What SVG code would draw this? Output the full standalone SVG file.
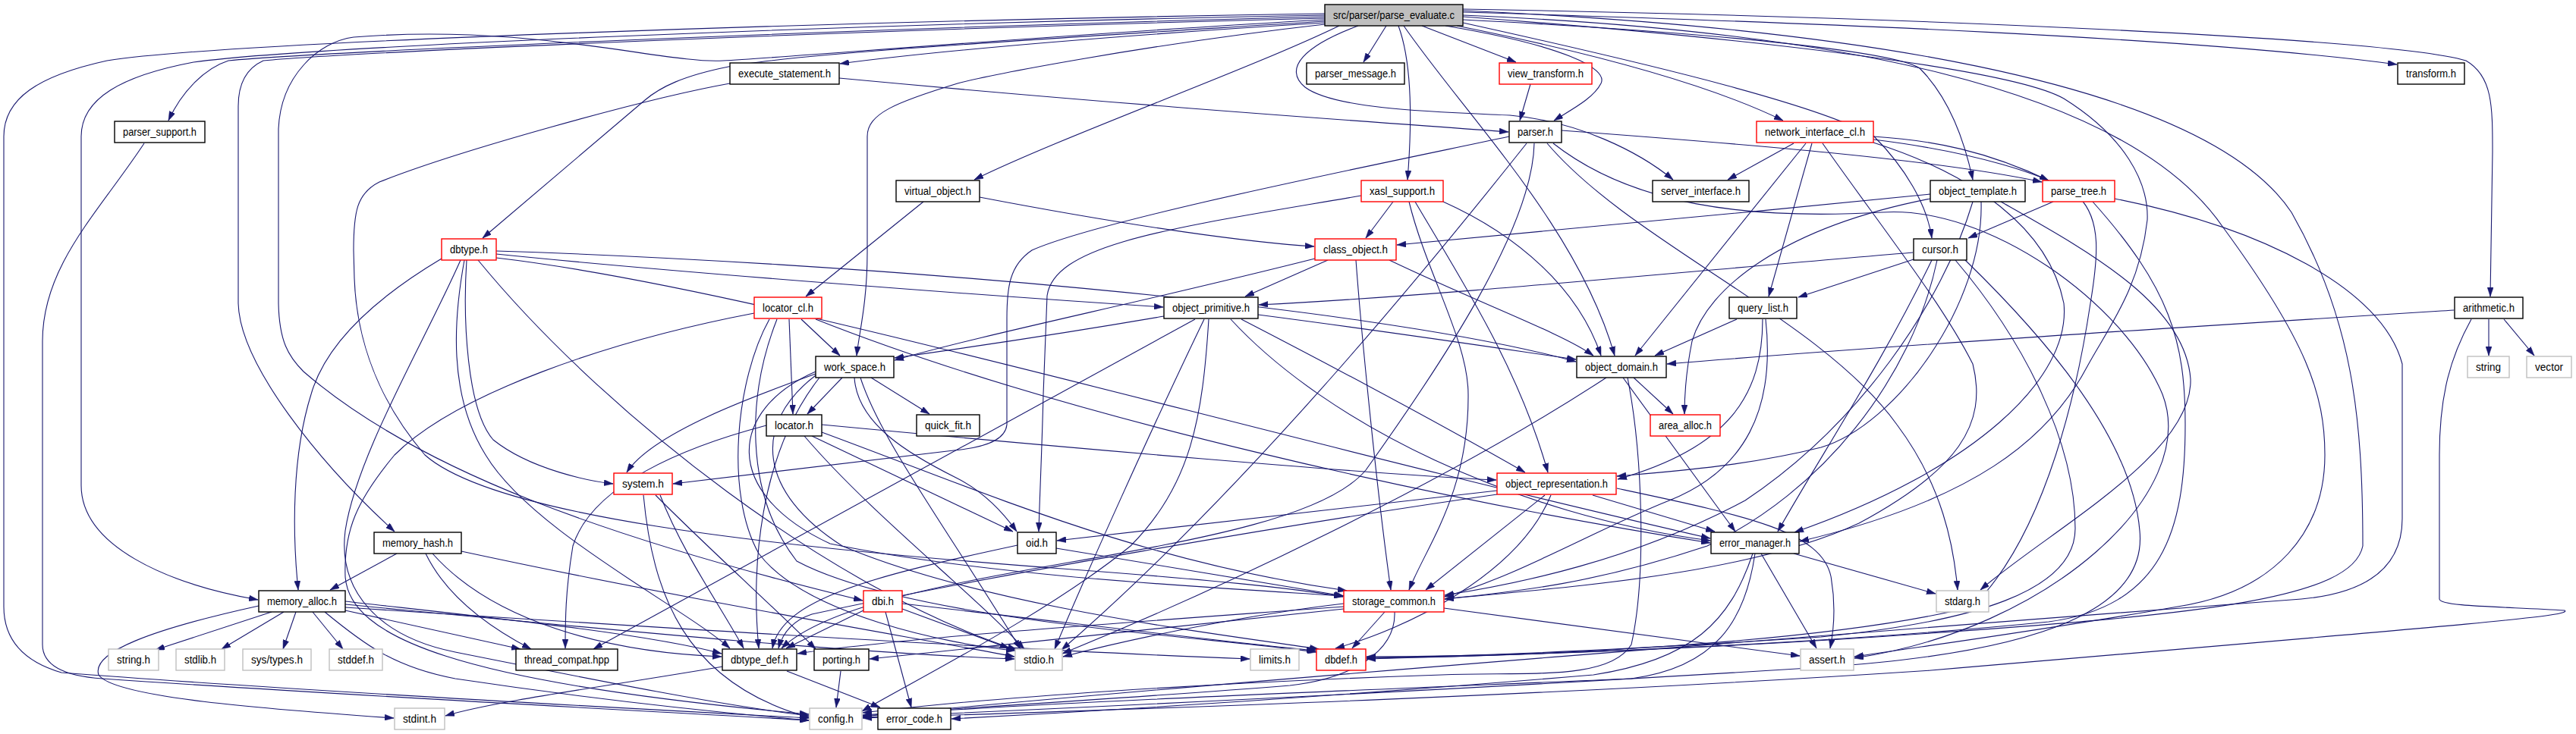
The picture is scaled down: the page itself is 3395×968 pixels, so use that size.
<svg xmlns="http://www.w3.org/2000/svg" width="3395" height="968" viewBox="0 0 3395 968">
<style>
.bg{fill:#ffffff}
rect.n{fill:#ffffff;stroke:#000000;stroke-width:1.4}
rect.r{fill:#ffffff;stroke:#ff0000;stroke-width:1.4}
rect.g{fill:#ffffff;stroke:#bfbfbf;stroke-width:1.4}
rect.root{fill:#bfbfbf;stroke:#000000;stroke-width:1.4}
text{font-family:"Liberation Sans",Arial,sans-serif;font-size:14px;fill:#000000;text-anchor:middle}
#edges path{fill:none;stroke:#191970;stroke-width:1.1;marker-end:url(#a)}
</style>
<defs>
<marker id="a" viewBox="0 0 12 8" refX="12" refY="4" markerWidth="12" markerHeight="8" markerUnits="userSpaceOnUse" orient="auto">
<path d="M0,0 L12,4 L0,8 z" fill="#191970" stroke="#191970" stroke-width="0.5"/>
</marker>
</defs>
<rect class="bg" x="0" y="0" width="3395" height="968"/>
<g id="edges">
<path d="M1746,18 C1100,28 300,55 141,80 C50,100 5,130 5,180 L5,800 C5,850 40,875 81,887 C400,912 900,938 1066,947"/>
<path d="M1746,20 C1100,32 400,62 255,82 C160,100 107,130 107,180 L107,640 C107,720 220,770 340,791"/>
<path d="M1746,22 C1100,38 400,70 301,80 C270,90 240,120 222,159"/>
<path d="M1746,24 C1100,40 450,70 347,80 C325,90 314,110 314,140 L314,400 C316,480 420,610 520,701"/>
<path d="M1746,26 C1400,45 1050,75 953,80 C880,85 700,30 466,49 C420,55 370,100 367,170 L367,400 C368,450 380,470 400,490 C550,620 800,710 1137,792"/>
<path d="M1746,28 C1400,50 1050,70 960,88 C900,100 870,115 850,132 L636,314"/>
<path d="M1746,30 C1500,45 1250,65 1107,84"/>
<path d="M1746,32 C1500,60 1300,100 1262,110 C1180,135 1143,150 1143,180 L1143,333 C1143,400 1132,440 1129,469"/>
<path d="M1765,34 C1650,90 1400,180 1284,237"/>
<path d="M1827,34 L1797,82"/>
<path d="M1874,34 L1998,82"/>
<path d="M1843,34 C1860,80 1862,150 1855,237"/>
<path d="M1790,34 C1720,60 1690,90 1720,115 C1760,145 1900,148 1990,152 C2080,160 2160,200 2205,237"/>
<path d="M1850,34 C1930,150 2080,300 2128,469"/>
<path d="M1905,34 C2060,60 2120,90 2110,110 C2100,130 2070,145 2048,159"/>
<path d="M1920,34 C2100,70 2250,110 2350,159"/>
<path d="M1928,30 C2200,90 2400,140 2470,180 C2510,220 2540,270 2546,314"/>
<path d="M1928,26 C2300,45 2500,70 2530,90 C2570,130 2590,190 2600,237"/>
<path d="M1928,16 C2400,30 2900,50 3159,85"/>
<path d="M1928,12 C2500,22 3150,50 3250,80 C3285,100 3285,140 3285,200 L3282,391"/>
<path d="M1928,22 C2300,50 2650,90 2720,130 C2800,180 2832,240 2830,290 C2820,380 2780,430 2751,483 C2700,580 2600,660 2372,714"/>
<path d="M1928,20 C2400,40 2800,110 2930,300 C3040,450 3064,520 3064,600 C3064,700 3000,780 2870,800 C2700,830 2550,850 2444,866"/>
<path d="M1928,14 C2400,35 2900,100 3020,280 C3100,420 3114,550 3114,720 C3100,790 2900,810 2545,835 C2200,860 1900,866 1801,869"/>
<path d="M1106,103 C1500,140 1800,160 1988,174"/>
<path d="M962,110 C850,130 600,200 500,240 C470,255 466,280 466,330 L467,367 C470,450 500,530 560,600 C650,680 1000,720 1400,750 C1600,765 1700,775 1770,787"/>
<path d="M190,189 C130,280 56,350 56,450 L56,850 C56,880 90,892 135,895 C500,920 900,940 1066,950"/>
<path d="M2058,172 C2300,190 2550,210 2691,240"/>
<path d="M1989,180 C1800,220 1450,290 1360,330 C1330,350 1327,380 1327,420 L1327,560 C1325,580 1300,590 1257,594 C1100,612 950,630 887,638"/>
<path d="M2012,189 C1900,330 1650,640 1399,857"/>
<path d="M2022,189 C2020,300 1900,480 1800,620 C1700,740 1150,740 1030,855"/>
<path d="M2039,189 C2150,320 2400,420 2500,560 C2560,640 2575,720 2580,778"/>
<path d="M2047,189 C2150,270 2300,290 2480,280 C2620,270 2800,400 2850,520 C2900,650 2700,830 2444,868"/>
<path d="M2017,111 L2003,159"/>
<path d="M2364,189 L2277,237"/>
<path d="M2380,189 L2155,469"/>
<path d="M2388,189 L2331,391"/>
<path d="M2469,180 C2550,185 2620,200 2700,238"/>
<path d="M2402,189 C2480,300 2560,400 2600,480 C2620,560 2580,620 2450,690 C2300,760 2050,775 1904,790"/>
<path d="M2469,184 C2600,200 2700,230 2740,260 C2770,290 2765,340 2755,400 C2740,500 2700,700 2600,800 C2400,850 2000,866 1801,868"/>
<path d="M2469,188 C2600,230 2700,300 2720,400 C2730,500 2600,620 2365,702"/>
<path d="M1794,258 C1550,300 1390,320 1380,390 L1375,520 C1373,600 1370,660 1369,701"/>
<path d="M1836,266 L1800,314"/>
<path d="M1902,266 C2000,310 2080,380 2110,469"/>
<path d="M1857,266 C1880,360 1935,450 1935,520 C1936,650 1880,720 1857,778"/>
<path d="M1865,266 C1920,360 2000,480 2040,623"/>
<path d="M1217,266 L1062,391"/>
<path d="M1291,260 C1500,300 1650,320 1732,325"/>
<path d="M582,341 C500,390 430,450 410,520 C385,600 385,700 393,778"/>
<path d="M607,343 C560,450 470,600 455,700 C445,780 500,840 600,860 C800,900 950,930 1066,944"/>
<path d="M612,343 C598,420 590,520 640,600 C700,700 900,800 962,855"/>
<path d="M615,343 C610,420 615,540 650,580 C700,620 780,635 808,638"/>
<path d="M630,343 C800,550 1100,780 1340,857"/>
<path d="M654,335 C900,360 1300,390 1533,405"/>
<path d="M654,331 C1100,345 1800,400 2077,477"/>
<path d="M654,340 C1000,380 1600,560 2254,710"/>
<path d="M1750,343 L1641,391"/>
<path d="M1733,341 C1500,400 1300,440 1179,475"/>
<path d="M1787,343 C1795,450 1815,650 1833,778"/>
<path d="M1831,343 C1950,400 2060,440 2100,469"/>
<path d="M1056,421 L1107,469"/>
<path d="M1040,421 L1045,546"/>
<path d="M994,413 C800,450 600,520 520,600 C470,660 453,700 455,760 C460,840 600,900 1066,942"/>
<path d="M1014,421 C970,500 955,650 1000,730 C1060,810 1250,850 1338,858"/>
<path d="M1075,421 C1400,550 1900,660 2254,716"/>
<path d="M1024,421 C985,520 980,650 1050,740 C1200,820 1600,840 1735,860"/>
<path d="M1534,417 C1400,440 1300,455 1179,472"/>
<path d="M1658,415 C1850,440 1980,460 2077,474"/>
<path d="M1636,421 C1750,480 1900,560 2010,623"/>
<path d="M1622,421 C1750,560 2000,680 2254,713"/>
<path d="M1575,421 L782,856"/>
<path d="M1587,421 C1520,560 1430,760 1390,856"/>
<path d="M1593,421 C1585,550 1570,640 1490,720 C1380,810 1200,900 1136,938"/>
<path d="M1110,498 L1064,546"/>
<path d="M1148,498 L1225,546"/>
<path d="M1126,498 C1130,560 1200,600 1260,630 C1300,650 1325,680 1340,701"/>
<path d="M1075,493 C1000,520 860,570 826,623"/>
<path d="M1134,498 C1160,580 1250,700 1345,856"/>
<path d="M1075,490 C960,540 950,650 1094,717 C1300,760 1600,775 1770,786"/>
<path d="M1075,495 C990,560 1000,650 1110,720 C1300,800 1600,835 1738,856"/>
<path d="M1080,498 C1000,600 990,750 1000,855"/>
<path d="M1070,575 L1335,701"/>
<path d="M1083,560 C1400,590 1800,625 1972,633"/>
<path d="M1083,570 C1300,650 1500,740 1775,779"/>
<path d="M1010,561 C900,590 780,640 755,720 C745,780 745,820 745,855"/>
<path d="M1060,575 C1150,680 1280,780 1350,856"/>
<path d="M848,653 C860,780 900,900 1066,946"/>
<path d="M864,653 C930,720 1030,810 1075,856"/>
<path d="M870,653 C900,730 950,800 980,855"/>
<path d="M523,730 L435,778"/>
<path d="M561,730 C590,790 650,830 700,856"/>
<path d="M570,730 C650,820 800,860 951,866"/>
<path d="M608,727 C900,790 1200,840 1337,866"/>
<path d="M358,807 L205,857"/>
<path d="M374,807 L292,856"/>
<path d="M390,807 L373,856"/>
<path d="M412,807 L452,856"/>
<path d="M455,805 L686,856"/>
<path d="M341,799 C200,830 120,860 130,890 C150,920 350,935 519,947"/>
<path d="M428,807 C480,850 520,880 600,895 C800,925 950,940 1066,950"/>
<path d="M455,793 C650,815 850,835 951,862"/>
<path d="M455,797 C800,830 1100,860 1337,869"/>
<path d="M455,801 C900,830 1400,860 1647,869"/>
<path d="M953,879 C800,905 650,925 587,944"/>
<path d="M1037,885 L1160,933"/>
<path d="M1108,885 L1102,933"/>
<path d="M1138,805 L1036,855"/>
<path d="M1189,803 L1330,855"/>
<path d="M1167,807 L1201,933"/>
<path d="M1189,796 C1400,820 1600,845 1734,858"/>
<path d="M1341,719 C1150,760 1030,790 1018,855"/>
<path d="M1392,723 C1550,750 1680,770 1771,786"/>
<path d="M2153,498 L2205,546"/>
<path d="M2139,498 L2287,701"/>
<path d="M2117,498 C1900,640 1600,780 1400,862"/>
<path d="M2145,498 C2165,600 2170,760 2150,850 C2120,900 2000,885 1900,890 C1600,900 1300,920 1137,940"/>
<path d="M2099,653 L2260,701"/>
<path d="M2131,644 C2300,680 2400,700 2413,760 C2420,800 2417,830 2412,855"/>
<path d="M2036,653 L1879,778"/>
<path d="M2044,653 C2000,760 1850,830 1760,855"/>
<path d="M1973,647 C1700,677 1500,700 1393,713"/>
<path d="M1973,652 C1700,691 1300,760 1070,810 C1040,820 1030,840 1026,855"/>
<path d="M2364,730 L2551,783"/>
<path d="M2321,730 L2394,855"/>
<path d="M2313,730 C2300,820 2260,880 2150,895 C1800,910 1400,925 1137,944"/>
<path d="M2310,730 C2280,820 2230,870 2100,890 C1800,915 1500,935 1254,948"/>
<path d="M1825,807 L1782,855"/>
<path d="M1903,802 L2372,865"/>
<path d="M1838,807 C1840,860 1780,895 1700,904 C1500,920 1250,935 1137,943"/>
<path d="M1771,796 C1650,810 1500,840 1401,866"/>
<path d="M1771,800 C1500,820 1200,840 1051,862"/>
<path d="M1771,803 C1500,830 1250,860 1146,869"/>
<path d="M2522,342 L2370,392"/>
<path d="M2521,333 C2200,360 1900,390 1659,402"/>
<path d="M2546,343 C2480,480 2400,600 2343,701"/>
<path d="M2553,343 C2520,500 2400,650 2250,720 C2100,770 2000,780 1904,790"/>
<path d="M2577,343 C2668,450 2735,583 2735,697 C2735,780 2600,820 2400,840 C2100,860 1900,866 1801,867"/>
<path d="M2590,343 C2700,450 2810,580 2820,700 C2830,800 2700,860 2400,880 C2000,905 1500,930 1137,946"/>
<path d="M2544,256 C2300,280 2000,310 1841,323"/>
<path d="M2544,262 C2350,300 2250,380 2230,450 C2222,490 2220,520 2220,546"/>
<path d="M2611,266 C2615,400 2500,560 2400,590 C2300,615 2200,622 2131,628"/>
<path d="M2637,266 C2750,330 2880,400 2887,500 C2890,600 2700,700 2610,778"/>
<path d="M2600,266 C2560,400 2450,560 2300,660 C2150,740 2000,770 1904,785"/>
<path d="M2706,266 L2594,314"/>
<path d="M2758,266 C2860,380 2880,450 2880,560 C2880,700 2850,800 2700,820 C2400,850 2000,866 1801,866"/>
<path d="M2787,262 C2980,300 3140,380 3166,480 L3166,684 C3166,760 3100,784 3033,790 C2500,830 1600,900 1137,945"/>
<path d="M3280,421 L3280,469"/>
<path d="M3300,421 L3340,469"/>
<path d="M3234,409 C2900,430 2500,455 2197,480"/>
<path d="M3257,421 C3230,470 3215,520 3215,600 L3215,790 C3215,800 3300,800 3380,805 C3390,812 3300,820 2545,884 C2000,920 1500,935 1137,947"/>
<path d="M2289,421 L2181,469"/>
<path d="M2323,421 C2323,520 2280,590 2132,632"/>
<path d="M2327,421 C2340,540 2300,620 2200,660 C2100,700 2000,760 1904,787"/>
</g>
<g id="n_root"><rect class="root" x="1746" y="6" width="182" height="28"/><text x="1837" y="25" textLength="160" lengthAdjust="spacingAndGlyphs">src/parser/parse_evaluate.c</text></g>
<g id="n_parser_support"><rect class="n" x="151" y="160" width="119" height="28"/><text x="210.5" y="179" textLength="97" lengthAdjust="spacingAndGlyphs">parser_support.h</text></g>
<g id="n_execute_statement"><rect class="n" x="962" y="83" width="144" height="28"/><text x="1034" y="102" textLength="122" lengthAdjust="spacingAndGlyphs">execute_statement.h</text></g>
<g id="n_parser_message"><rect class="n" x="1722" y="83" width="129" height="28"/><text x="1786.5" y="102" textLength="107" lengthAdjust="spacingAndGlyphs">parser_message.h</text></g>
<g id="n_view_transform"><rect class="r" x="1976" y="83" width="122" height="28"/><text x="2037" y="102" textLength="100" lengthAdjust="spacingAndGlyphs">view_transform.h</text></g>
<g id="n_transform"><rect class="n" x="3160" y="83" width="88" height="28"/><text x="3204" y="102" textLength="66" lengthAdjust="spacingAndGlyphs">transform.h</text></g>
<g id="n_parser"><rect class="n" x="1989" y="160" width="69" height="28"/><text x="2023.5" y="179" textLength="47" lengthAdjust="spacingAndGlyphs">parser.h</text></g>
<g id="n_network_interface_cl"><rect class="r" x="2315" y="160" width="154" height="28"/><text x="2392" y="179" textLength="132" lengthAdjust="spacingAndGlyphs">network_interface_cl.h</text></g>
<g id="n_virtual_object"><rect class="n" x="1181" y="238" width="110" height="28"/><text x="1236" y="257" textLength="88" lengthAdjust="spacingAndGlyphs">virtual_object.h</text></g>
<g id="n_xasl_support"><rect class="r" x="1794" y="238" width="108" height="28"/><text x="1848" y="257" textLength="86" lengthAdjust="spacingAndGlyphs">xasl_support.h</text></g>
<g id="n_server_interface"><rect class="n" x="2178" y="238" width="127" height="28"/><text x="2241.5" y="257" textLength="105" lengthAdjust="spacingAndGlyphs">server_interface.h</text></g>
<g id="n_object_template"><rect class="n" x="2544" y="238" width="125" height="28"/><text x="2606.5" y="257" textLength="103" lengthAdjust="spacingAndGlyphs">object_template.h</text></g>
<g id="n_parse_tree"><rect class="r" x="2692" y="238" width="95" height="28"/><text x="2739.5" y="257" textLength="73" lengthAdjust="spacingAndGlyphs">parse_tree.h</text></g>
<g id="n_dbtype"><rect class="r" x="582" y="315" width="72" height="28"/><text x="618" y="334" textLength="50" lengthAdjust="spacingAndGlyphs">dbtype.h</text></g>
<g id="n_class_object"><rect class="r" x="1733" y="315" width="107" height="28"/><text x="1786.5" y="334" textLength="85" lengthAdjust="spacingAndGlyphs">class_object.h</text></g>
<g id="n_cursor"><rect class="n" x="2522" y="315" width="70" height="28"/><text x="2557" y="334" textLength="48" lengthAdjust="spacingAndGlyphs">cursor.h</text></g>
<g id="n_locator_cl"><rect class="r" x="994" y="392" width="89" height="28"/><text x="1038.5" y="411" textLength="67" lengthAdjust="spacingAndGlyphs">locator_cl.h</text></g>
<g id="n_object_primitive"><rect class="n" x="1534" y="392" width="124" height="28"/><text x="1596" y="411" textLength="102" lengthAdjust="spacingAndGlyphs">object_primitive.h</text></g>
<g id="n_query_list"><rect class="n" x="2279" y="392" width="89" height="28"/><text x="2323.5" y="411" textLength="67" lengthAdjust="spacingAndGlyphs">query_list.h</text></g>
<g id="n_arithmetic"><rect class="n" x="3235" y="392" width="90" height="28"/><text x="3280" y="411" textLength="68" lengthAdjust="spacingAndGlyphs">arithmetic.h</text></g>
<g id="n_work_space"><rect class="n" x="1075" y="470" width="103" height="28"/><text x="1126.5" y="489" textLength="81" lengthAdjust="spacingAndGlyphs">work_space.h</text></g>
<g id="n_object_domain"><rect class="n" x="2078" y="470" width="118" height="28"/><text x="2137" y="489" textLength="96" lengthAdjust="spacingAndGlyphs">object_domain.h</text></g>
<g id="n_string"><rect class="g" x="3252" y="470" width="55" height="28"/><text x="3279.5" y="489" textLength="33" lengthAdjust="spacingAndGlyphs">string</text></g>
<g id="n_vector"><rect class="g" x="3330" y="470" width="59" height="28"/><text x="3359.5" y="489" textLength="37" lengthAdjust="spacingAndGlyphs">vector</text></g>
<g id="n_locator"><rect class="n" x="1010" y="547" width="73" height="28"/><text x="1046.5" y="566" textLength="51" lengthAdjust="spacingAndGlyphs">locator.h</text></g>
<g id="n_quick_fit"><rect class="n" x="1208" y="547" width="83" height="28"/><text x="1249.5" y="566" textLength="61" lengthAdjust="spacingAndGlyphs">quick_fit.h</text></g>
<g id="n_area_alloc"><rect class="r" x="2175" y="547" width="92" height="28"/><text x="2221" y="566" textLength="70" lengthAdjust="spacingAndGlyphs">area_alloc.h</text></g>
<g id="n_system"><rect class="r" x="809" y="624" width="77" height="28"/><text x="847.5" y="643" textLength="55" lengthAdjust="spacingAndGlyphs">system.h</text></g>
<g id="n_object_representation"><rect class="r" x="1973" y="624" width="157" height="28"/><text x="2051.5" y="643" textLength="135" lengthAdjust="spacingAndGlyphs">object_representation.h</text></g>
<g id="n_memory_hash"><rect class="n" x="493" y="702" width="115" height="28"/><text x="550.5" y="721" textLength="93" lengthAdjust="spacingAndGlyphs">memory_hash.h</text></g>
<g id="n_oid"><rect class="n" x="1341" y="702" width="51" height="28"/><text x="1366.5" y="721" textLength="29" lengthAdjust="spacingAndGlyphs">oid.h</text></g>
<g id="n_error_manager"><rect class="n" x="2255" y="702" width="116" height="28"/><text x="2313" y="721" textLength="94" lengthAdjust="spacingAndGlyphs">error_manager.h</text></g>
<g id="n_memory_alloc"><rect class="n" x="341" y="779" width="114" height="28"/><text x="398" y="798" textLength="92" lengthAdjust="spacingAndGlyphs">memory_alloc.h</text></g>
<g id="n_dbi"><rect class="r" x="1138" y="779" width="51" height="28"/><text x="1163.5" y="798" textLength="29" lengthAdjust="spacingAndGlyphs">dbi.h</text></g>
<g id="n_storage_common"><rect class="r" x="1771" y="779" width="132" height="28"/><text x="1837" y="798" textLength="110" lengthAdjust="spacingAndGlyphs">storage_common.h</text></g>
<g id="n_stdarg"><rect class="g" x="2552" y="779" width="69" height="28"/><text x="2586.5" y="798" textLength="47" lengthAdjust="spacingAndGlyphs">stdarg.h</text></g>
<g id="n_string_h"><rect class="g" x="143" y="856" width="66" height="28"/><text x="176" y="875" textLength="44" lengthAdjust="spacingAndGlyphs">string.h</text></g>
<g id="n_stdlib"><rect class="g" x="232" y="856" width="64" height="28"/><text x="264" y="875" textLength="42" lengthAdjust="spacingAndGlyphs">stdlib.h</text></g>
<g id="n_sys_types"><rect class="g" x="320" y="856" width="90" height="28"/><text x="365" y="875" textLength="68" lengthAdjust="spacingAndGlyphs">sys/types.h</text></g>
<g id="n_stddef"><rect class="g" x="434" y="856" width="70" height="28"/><text x="469" y="875" textLength="48" lengthAdjust="spacingAndGlyphs">stddef.h</text></g>
<g id="n_thread_compat"><rect class="n" x="680" y="856" width="134" height="28"/><text x="747" y="875" textLength="112" lengthAdjust="spacingAndGlyphs">thread_compat.hpp</text></g>
<g id="n_dbtype_def"><rect class="n" x="952" y="856" width="98" height="28"/><text x="1001" y="875" textLength="76" lengthAdjust="spacingAndGlyphs">dbtype_def.h</text></g>
<g id="n_porting"><rect class="n" x="1073" y="856" width="72" height="28"/><text x="1109" y="875" textLength="50" lengthAdjust="spacingAndGlyphs">porting.h</text></g>
<g id="n_stdio"><rect class="g" x="1338" y="856" width="62" height="28"/><text x="1369" y="875" textLength="40" lengthAdjust="spacingAndGlyphs">stdio.h</text></g>
<g id="n_limits"><rect class="g" x="1648" y="856" width="64" height="28"/><text x="1680" y="875" textLength="42" lengthAdjust="spacingAndGlyphs">limits.h</text></g>
<g id="n_dbdef"><rect class="r" x="1735" y="856" width="65" height="28"/><text x="1767.5" y="875" textLength="43" lengthAdjust="spacingAndGlyphs">dbdef.h</text></g>
<g id="n_assert"><rect class="g" x="2373" y="856" width="70" height="28"/><text x="2408" y="875" textLength="48" lengthAdjust="spacingAndGlyphs">assert.h</text></g>
<g id="n_stdint"><rect class="g" x="520" y="934" width="66" height="28"/><text x="553" y="953" textLength="44" lengthAdjust="spacingAndGlyphs">stdint.h</text></g>
<g id="n_config"><rect class="g" x="1067" y="934" width="69" height="28"/><text x="1101.5" y="953" textLength="47" lengthAdjust="spacingAndGlyphs">config.h</text></g>
<g id="n_error_code"><rect class="n" x="1157" y="934" width="96" height="28"/><text x="1205" y="953" textLength="74" lengthAdjust="spacingAndGlyphs">error_code.h</text></g>
</svg>
